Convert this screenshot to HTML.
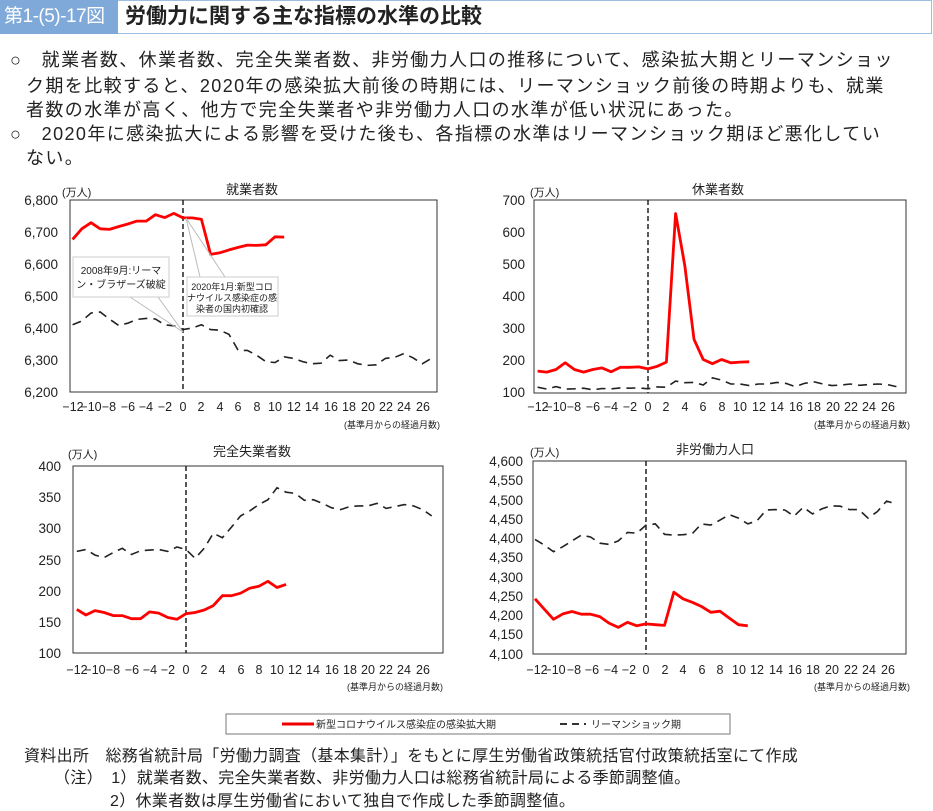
<!DOCTYPE html>
<html><head><meta charset="utf-8">
<style>
body{margin:0;width:933px;height:806px;background:#fff;font-family:"Liberation Sans","Noto Sans CJK JP",sans-serif;color:#222;position:relative;overflow:hidden}
.hd{position:absolute;left:0;top:0;width:118px;height:34px;background:#7ea9d9;color:#fff;font-size:19px;line-height:34px;padding-left:4px;box-sizing:border-box;white-space:nowrap;letter-spacing:-0.5px}
.tt{position:absolute;left:118px;top:0;width:814px;height:34px;border:1px solid #9dbfe3;border-left:none;box-sizing:border-box;font-size:21px;font-weight:bold;line-height:32px;padding-left:7px;color:#222}
.p{position:absolute;font-size:18px;line-height:24px;color:#222;white-space:nowrap;letter-spacing:1.4px}
.f{position:absolute;font-size:16px;color:#222;white-space:nowrap;letter-spacing:0.3px}
svg text{font-family:"Liberation Sans","Noto Sans CJK JP",sans-serif;fill:#222}
</style></head><body>
<div class="hd">第1-(5)-17図</div>
<div class="tt">労働力に関する主な指標の水準の比較</div>
<div class="p" style="left:10px;top:48px">○　就業者数、休業者数、完全失業者数、非労働力人口の推移について、感染拡大期とリーマンショッ</div>
<div class="p" style="left:26px;top:74px">ク期を比較すると、2020年の感染拡大前後の時期には、リーマンショック前後の時期よりも、就業</div>
<div class="p" style="left:26px;top:98px">者数の水準が高く、他方で完全失業者や非労働力人口の水準が低い状況にあった。</div>
<div class="p" style="left:10px;top:122px">○　2020年に感染拡大による影響を受けた後も、各指標の水準はリーマンショック期ほど悪化してい</div>
<div class="p" style="left:26px;top:146px">ない。</div>

<svg id="s" width="933" height="806" style="position:absolute;left:0;top:0">
<g font-size="13.5">
<text x="62" y="196" font-size="11">(万人)</text>
<text x="252" y="194" font-size="13" text-anchor="middle">就業者数</text>
<rect x="70" y="200" width="367" height="192" fill="none" stroke="#333" stroke-width="1"/>
<g text-anchor="end"><text x="58" y="205">6,800</text><text x="58" y="237">6,700</text><text x="58" y="269">6,600</text><text x="58" y="301">6,500</text><text x="58" y="333">6,400</text><text x="58" y="365">6,300</text><text x="58" y="397">6,200</text></g>
<text x="440" y="428" font-size="9" text-anchor="end">(基準月からの経過月数)</text>
<text x="530" y="196" font-size="11">(万人)</text>
<text x="718" y="194" font-size="13" text-anchor="middle">休業者数</text>
<rect x="534" y="200" width="372" height="193" fill="none" stroke="#333" stroke-width="1"/>
<g text-anchor="end"><text x="525" y="205">700</text><text x="525" y="237">600</text><text x="525" y="269">500</text><text x="525" y="301">400</text><text x="525" y="333">300</text><text x="525" y="365">200</text><text x="525" y="397">100</text></g>
<text x="910" y="428" font-size="9" text-anchor="end">(基準月からの経過月数)</text>
<text x="68" y="458" font-size="11">(万人)</text>
<text x="252" y="456" font-size="13" text-anchor="middle">完全失業者数</text>
<rect x="73" y="466" width="370" height="187" fill="none" stroke="#333" stroke-width="1"/>
<g text-anchor="end"><text x="61" y="471">400</text><text x="61" y="502">350</text><text x="61" y="533">300</text><text x="61" y="565">250</text><text x="61" y="596">200</text><text x="61" y="627">150</text><text x="61" y="658">100</text></g>
<text x="443" y="690" font-size="9" text-anchor="end">(基準月からの経過月数)</text>
<text x="530" y="456" font-size="11">(万人)</text>
<text x="715" y="454" font-size="13" text-anchor="middle">非労働力人口</text>
<rect x="533" y="461" width="373" height="193" fill="none" stroke="#333" stroke-width="1"/>
<g text-anchor="end"><text x="523" y="466">4,600</text><text x="523" y="485">4,550</text><text x="523" y="505">4,500</text><text x="523" y="524">4,450</text><text x="523" y="543">4,400</text><text x="523" y="562">4,350</text><text x="523" y="582">4,300</text><text x="523" y="601">4,250</text><text x="523" y="620">4,200</text><text x="523" y="639">4,150</text><text x="523" y="659">4,100</text></g>
<text x="910" y="690" font-size="9" text-anchor="end">(基準月からの経過月数)</text>
</g>
<g font-size="12.5" text-anchor="middle"><text x="73" y="411">−12</text><text x="91" y="411">−10</text><text x="109" y="411">−8</text><text x="128" y="411">−6</text><text x="146" y="411">−4</text><text x="165" y="411">−2</text><text x="183" y="411">0</text><text x="201" y="411">2</text><text x="220" y="411">4</text><text x="238" y="411">6</text><text x="257" y="411">8</text><text x="275" y="411">10</text><text x="294" y="411">12</text><text x="312" y="411">14</text><text x="331" y="411">16</text><text x="349" y="411">18</text><text x="368" y="411">20</text><text x="386" y="411">22</text><text x="404" y="411">24</text><text x="423" y="411">26</text></g>
<g font-size="12.5" text-anchor="middle"><text x="538" y="411">−12</text><text x="556" y="411">−10</text><text x="574" y="411">−8</text><text x="593" y="411">−6</text><text x="611" y="411">−4</text><text x="630" y="411">−2</text><text x="648" y="411">0</text><text x="666" y="411">2</text><text x="685" y="411">4</text><text x="703" y="411">6</text><text x="722" y="411">8</text><text x="740" y="411">10</text><text x="759" y="411">12</text><text x="777" y="411">14</text><text x="796" y="411">16</text><text x="814" y="411">18</text><text x="833" y="411">20</text><text x="851" y="411">22</text><text x="869" y="411">24</text><text x="888" y="411">26</text></g>
<g font-size="12.5" text-anchor="middle"><text x="77" y="674">−12</text><text x="95" y="674">−10</text><text x="113" y="674">−8</text><text x="132" y="674">−6</text><text x="150" y="674">−4</text><text x="168" y="674">−2</text><text x="186" y="674">0</text><text x="204" y="674">2</text><text x="222" y="674">4</text><text x="241" y="674">6</text><text x="259" y="674">8</text><text x="277" y="674">10</text><text x="295" y="674">12</text><text x="313" y="674">14</text><text x="332" y="674">16</text><text x="350" y="674">18</text><text x="368" y="674">20</text><text x="386" y="674">22</text><text x="404" y="674">24</text><text x="423" y="674">26</text></g>
<g font-size="12.5" text-anchor="middle"><text x="537" y="674">−12</text><text x="555" y="674">−10</text><text x="574" y="674">−8</text><text x="592" y="674">−6</text><text x="611" y="674">−4</text><text x="629" y="674">−2</text><text x="646" y="674">0</text><text x="665" y="674">2</text><text x="683" y="674">4</text><text x="702" y="674">6</text><text x="720" y="674">8</text><text x="739" y="674">10</text><text x="757" y="674">12</text><text x="776" y="674">14</text><text x="795" y="674">16</text><text x="813" y="674">18</text><text x="832" y="674">20</text><text x="851" y="674">22</text><text x="869" y="674">24</text><text x="888" y="674">26</text></g>
<g id="lines"></g>
<g stroke="#bbb" stroke-width="1" fill="none">
<line x1="130" y1="297" x2="183" y2="332"/><line x1="158" y1="297" x2="183" y2="332"/>
<line x1="200" y1="277" x2="186" y2="218"/><line x1="225" y1="277" x2="186" y2="218"/>
</g>
<rect x="73" y="257" width="96" height="40" fill="#fff" stroke="#ccc"/>
<text x="121" y="274" font-size="10" text-anchor="middle">2008年9月:リーマ</text>
<text x="121" y="288" font-size="10" text-anchor="middle">ン・ブラザーズ破綻</text>
<rect x="187" y="277" width="91" height="39" fill="#fff" stroke="#ccc"/>
<text x="232" y="290" font-size="9" text-anchor="middle">2020年1月:新型コロ</text>
<text x="232" y="301" font-size="9" text-anchor="middle">ナウイルス感染症の感</text>
<text x="232" y="312" font-size="9" text-anchor="middle">染者の国内初確認</text>
<rect x="226" y="714" width="504" height="20" fill="#fff" stroke="#777"/>
<line x1="282" y1="724" x2="314" y2="724" stroke="#e00" stroke-width="3"/>
<text x="316" y="728" font-size="10">新型コロナウイルス感染症の感染拡大期</text>
<line x1="560" y1="724" x2="586" y2="724" stroke="#333" stroke-width="2" stroke-dasharray="7,5"/>
<text x="591" y="728" font-size="10">リーマンショック期</text>
</svg>
<div class="f" style="left:24px;top:742px">資料出所　総務省統計局「労働力調査（基本集計）」をもとに厚生労働省政策統括官付政策統括室にて作成</div>
<div class="f" style="left:54px;top:764px">（注）　1）就業者数、完全失業者数、非労働力人口は総務省統計局による季節調整値。</div>
<div class="f" style="left:110px;top:787px">2）休業者数は厚生労働省において独自で作成した季節調整値。</div>
<script>
var C=[
{x0:183,dx:9.2,yT:200,yB:392,vT:6800,vB:6200,
r:[6677,6710,6729,6710,6708,6717,6725,6734,6734,6754,6745,6758,6744,6744,6740,6630,6635,6644,6652,6659,6658,6660,6685,6684],
l:[6410,6422,6447,6450,6428,6408,6415,6427,6430,6428,6410,6407,6395,6400,6410,6395,6393,6380,6330,6330,6315,6295,6292,6310,6305,6295,6288,6290,6315,6298,6300,6288,6283,6285,6305,6308,6320,6307,6288,6305]},
{x0:648,dx:9.2,yT:200,yB:393,vT:700,vB:100,
r:[168,165,173,194,173,165,173,178,166,180,180,181,175,183,196,658,496,267,204,191,204,194,196,197],
l:[118,112,120,112,113,115,110,114,113,116,115,116,113,119,118,137,132,133,125,147,140,128,128,123,128,128,133,130,120,130,135,128,123,125,128,124,126,128,126,120]},
{x0:186,dx:9.1,yT:466,yB:653,vT:400,vB:100,
r:[170,161,168,165,160,160,155,155,166,164,157,154,163,165,169,176,192,192,196,204,207,215,205,210],
l:[263,266,257,253,261,268,258,264,265,266,263,270,266,252,268,292,285,302,320,328,338,346,365,358,356,345,346,340,333,330,335,336,336,340,332,335,338,336,330,320]},
{x0:646,dx:9.25,yT:461,yB:654,vT:4600,vB:4100,
r:[4243,4216,4190,4204,4210,4203,4203,4197,4180,4169,4182,4173,4178,4176,4174,4260,4243,4234,4223,4208,4211,4193,4176,4173],
l:[4397,4382,4365,4378,4393,4408,4403,4387,4384,4393,4415,4413,4434,4437,4410,4408,4409,4412,4437,4434,4447,4461,4452,4437,4445,4473,4474,4473,4457,4480,4463,4476,4484,4483,4474,4474,4452,4469,4496,4489]}];
var h='';
C.forEach(function(c){
 function pts(a){return a.map(function(v,i){var m=i-12;return (c.x0+c.dx*m).toFixed(1)+','+(c.yT+(c.vT-v)/(c.vT-c.vB)*(c.yB-c.yT)).toFixed(1)}).join(' ')}
 h+='<line x1="'+c.x0+'" y1="'+c.yT+'" x2="'+c.x0+'" y2="'+c.yB+'" stroke="#222" stroke-width="1.5" stroke-dasharray="5,3"/>';
 h+='<polyline points="'+pts(c.l)+'" fill="none" stroke="#222" stroke-width="1.6" stroke-dasharray="9,6"/>';
 h+='<polyline points="'+pts(c.r)+'" fill="none" stroke="#f00" stroke-width="2.8" stroke-linejoin="round"/>';
});
document.getElementById('lines').innerHTML=h;
</script>
</body></html>
